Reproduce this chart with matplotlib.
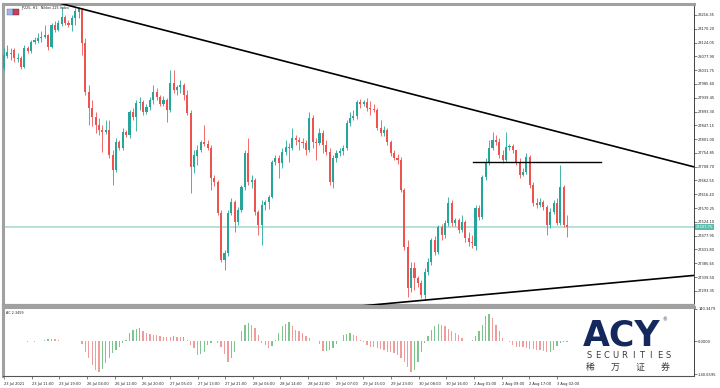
import numpy as np
import matplotlib
matplotlib.use("Agg")
import matplotlib.pyplot as plt
from matplotlib.transforms import blended_transform_factory

# ---------------- data (JP225, H1) ----------------
opens = [28039, 28079, 28089, 28099, 28069, 28072, 28042, 28105, 28095, 28126,
         28129, 28139, 28142, 28149, 28109, 28182, 28166, 28186, 28209, 28189,
         28182, 28206, 28225, 28233, 28122, 27958, 27905, 27875, 27848, 27831,
         27825, 27831, 27748, 27698, 27791, 27771, 27825, 27815, 27891, 27875,
         27922, 27925, 27891, 27908, 27932, 27958, 27942, 27918, 27932, 27898,
         27988, 27965, 27975, 27982, 27948, 27888, 27708, 27745, 27764, 27791,
         27785, 27771, 27671, 27657, 27554, 27397, 27420, 27554, 27590, 27524,
         27564, 27641, 27754, 27657, 27664, 27557, 27514, 27581, 27590, 27607,
         27724, 27738, 27721, 27758, 27774, 27771, 27805, 27798, 27791, 27788,
         27764, 27871, 27791, 27788, 27821, 27781, 27758, 27657, 27738, 27754,
         27761, 27771, 27855, 27871, 27878, 27925, 27918, 27925, 27905, 27902,
         27898, 27838, 27821, 27831, 27791, 27754, 27738, 27731, 27631, 27440,
         27303, 27370, 27336, 27320, 27280, 27356, 27390, 27464, 27423, 27507,
         27480, 27520, 27587, 27520, 27530, 27497, 27524, 27470, 27457, 27445,
         27570, 27540, 27674, 27724, 27771, 27798, 27791, 27748, 27731, 27774,
         27778, 27764, 27724, 27681, 27691, 27741, 27647, 27587, 27581, 27590,
         27574, 27514, 27557, 27587, 27520, 27641, 27514]
closes = [28082, 28092, 28085, 28072, 28072, 28042, 28105, 28095, 28126, 28132,
          28139, 28142, 28149, 28109, 28182, 28166, 28189, 28209, 28189, 28182,
          28206, 28229, 28236, 28122, 27958, 27905, 27875, 27848, 27831, 27825,
          27831, 27748, 27698, 27791, 27771, 27825, 27815, 27891, 27875, 27922,
          27925, 27891, 27908, 27932, 27958, 27942, 27918, 27932, 27898, 27988,
          27965, 27975, 27982, 27948, 27888, 27708, 27748, 27764, 27791, 27785,
          27771, 27671, 27657, 27554, 27397, 27420, 27554, 27590, 27524, 27564,
          27641, 27754, 27657, 27664, 27557, 27514, 27581, 27590, 27607, 27724,
          27738, 27721, 27758, 27774, 27771, 27805, 27798, 27791, 27788, 27764,
          27871, 27791, 27788, 27821, 27781, 27758, 27657, 27738, 27754, 27761,
          27771, 27855, 27871, 27878, 27925, 27918, 27925, 27905, 27902, 27898,
          27838, 27821, 27831, 27791, 27754, 27738, 27731, 27631, 27440, 27303,
          27370, 27336, 27320, 27280, 27356, 27390, 27464, 27423, 27507, 27480,
          27520, 27587, 27520, 27530, 27497, 27524, 27470, 27457, 27453, 27570,
          27540, 27674, 27724, 27771, 27798, 27791, 27748, 27731, 27774, 27778,
          27764, 27724, 27681, 27691, 27741, 27647, 27587, 27581, 27590, 27574,
          27514, 27557, 27587, 27520, 27641, 27514, 27507]
highs = [28105, 28116, 28105, 28105, 28089, 28079, 28116, 28112, 28132, 28142,
         28156, 28162, 28182, 28152, 28189, 28196, 28199, 28243, 28216, 28199,
         28216, 28239, 28243, 28239, 28139, 27982, 27932, 27891, 27871, 27848,
         27865, 27865, 27764, 27805, 27798, 27838, 27831, 27898, 27905, 27932,
         27942, 27932, 27918, 27942, 27982, 27972, 27948, 27945, 27938, 28032,
         28032, 27982, 27999, 27988, 27965, 27898, 27764, 27781, 27798, 27848,
         27798, 27781, 27681, 27664, 27564, 27430, 27564, 27604, 27597, 27574,
         27647, 27764, 27805, 27681, 27671, 27564, 27597, 27597, 27614, 27731,
         27748, 27748, 27771, 27798, 27788, 27838, 27815, 27808, 27805, 27798,
         27891, 27882, 27805, 27838, 27831, 27798, 27771, 27748, 27764, 27771,
         27781, 27865, 27891, 27898, 27932, 27935, 27932, 27938, 27928, 27918,
         27905, 27865, 27845, 27838, 27798, 27764, 27751, 27741, 27637, 27464,
         27390, 27390, 27343, 27330, 27370, 27403, 27470, 27477, 27514, 27517,
         27530, 27607, 27597, 27537, 27537, 27547, 27530, 27490, 27480, 27581,
         27581, 27681, 27738, 27798, 27825, 27815, 27805, 27764, 27825, 27785,
         27785, 27764, 27738, 27704, 27754, 27748, 27657, 27604, 27604, 27597,
         27581, 27570, 27597, 27604, 27714, 27647, 27547]
lows = [28032, 28072, 28065, 28059, 28059, 28035, 28039, 28089, 28089, 28119,
        28122, 28126, 28139, 28099, 28105, 28159, 28162, 28179, 28182, 28176,
        28162, 28182, 28205, 28082, 27948, 27848, 27845, 27821, 27815, 27758,
        27818, 27738, 27647, 27691, 27764, 27764, 27808, 27805, 27865, 27828,
        27898, 27882, 27885, 27898, 27918, 27932, 27911, 27911, 27858, 27891,
        27955, 27948, 27955, 27932, 27882, 27621, 27688, 27714, 27758, 27778,
        27764, 27631, 27644, 27547, 27390, 27363, 27410, 27547, 27490, 27514,
        27557, 27631, 27647, 27637, 27547, 27480, 27447, 27564, 27567, 27604,
        27714, 27671, 27704, 27748, 27724, 27764, 27781, 27764, 27771, 27748,
        27758, 27771, 27731, 27781, 27754, 27748, 27647, 27637, 27724, 27744,
        27748, 27764, 27845, 27865, 27868, 27905, 27911, 27895, 27882, 27891,
        27831, 27811, 27811, 27781, 27744, 27731, 27718, 27624, 27430, 27273,
        27290, 27296, 27306, 27270, 27263, 27346, 27380, 27413, 27417, 27464,
        27470, 27510, 27510, 27510, 27487, 27490, 27457, 27443, 27437, 27430,
        27530, 27534, 27664, 27714, 27764, 27781, 27738, 27721, 27724, 27764,
        27754, 27714, 27671, 27677, 27684, 27637, 27577, 27570, 27574, 27564,
        27480, 27504, 27550, 27514, 27514, 27507, 27473]

# Accelerator oscillator values (one per bar)
ac_values = [3, 3, 4, 3, 2, 3, 3, -2, 0, -2, 3, 4, 6, 10, 12, 10, 5, 4, 3, 3, 2, 2, 3,
             -12, -44, -73, -102, -124, -131, -117, -95, -73, -51,
             -37, -22, -7, 7, 37, 51, 55, 58, 44, 37,
             32, 29, 26, 23, 20, 20, 20, 22, 20, 19,
             20, 7, -15, -29, -58, -55, -44, -15, -7, 4,
             -7, -26, -55, -88, -73, -44, 4, 44, 73, 80,
             73, 58, 29, -7, -15, -29, -18, 7, 37, 66,
             76, 85, 66, 51, 44, 37,
             22, 15, 4, 1, -10, -42, -40, -36, -29, -12,
             1, 26, 32, 37, 29, 22, 7, -4, -15, -22,
             -26, -29, -32, -37, -44, -44, -51, -58, -73, -88,
             -110, -134, -124, -88, -44, -7, 22, 51, 66, 76,
             73, 66, 55, 44, 37, 26, 15, 2, 1, 7,
             22, 44, 73, 110, 120, 102, 73, 44, 15, 4,
             -4, -15, -22, -22, -26, -29, -32, -32, -37, -37,
             -41, -47, -44, -37, -18, -7, -3, -2]

# drawn objects (bar index, price)
upper_trend_x = [16.0, 203.4]
upper_trend_y = [28257, 27708]
lower_trend_x = [105.5, 203.4]
lower_trend_y = [27243, 27345]
hline_x = [138.3, 176.0]
hline_y = [27724, 27724]

price_ticks = [28216.35, 28170.20, 28124.05, 28077.90, 28031.75, 27985.60, 27939.45,
               27893.30, 27847.15, 27801.00, 27754.85, 27708.70, 27662.55, 27616.40,
               27570.25, 27524.10, 27477.95, 27431.80, 27385.65, 27339.50, 27293.35]
ac_ticks = [140.3479, 0.0, -140.6595]
ac_tick_labels = ["140.3479", "0.0000", "-140.6595"]
time_labels = ["23 Jul 2021", "23 Jul 11:00", "23 Jul 19:00", "26 Jul 04:00", "26 Jul 12:00",
               "26 Jul 20:00", "27 Jul 05:00", "27 Jul 13:00", "27 Jul 21:00", "28 Jul 06:00",
               "28 Jul 14:00", "28 Jul 22:00", "29 Jul 07:00", "29 Jul 15:00", "29 Jul 23:00",
               "30 Jul 08:00", "30 Jul 16:00", "2 Aug 01:00", "2 Aug 09:00", "2 Aug 17:00",
               "3 Aug 02:00"]
bid_label = "27507.75"
logo_word = "SECURITIES"
logo_cn = ["稀", "万", "证", "券"]

# ---------------- drawing ----------------
GREEN = "#26a69a"
RED = "#ef5350"
AC_GREEN = "#7fc48c"
AC_RED = "#ee9c9c"
FRAME = "#a0a0a0"

o = np.array(opens, float)
c = np.array(closes, float)
h = np.array(highs, float)
l = np.array(lows, float)
n = len(o)
idx = np.arange(n)

W, H = 720, 388
fig = plt.figure(figsize=(7.2, 3.88), dpi=100)
fig.patch.set_facecolor("white")
ax = fig.add_axes([3 / W, 1 - 305 / H, 691 / W, 301 / H])
ax2 = fig.add_axes([3 / W, 1 - 376 / H, 691 / W, 69.5 / H])

XMIN, XMAX = -0.3, 203.4

# candles
up = c >= o
cols = np.where(up, GREEN, RED)
ax.vlines(idx, l, h, colors=cols, lw=0.6, zorder=3)
body = np.maximum(np.abs(c - o), 2.0)
ax.bar(idx, body, bottom=np.minimum(o, c), width=0.62, color=cols, lw=0, zorder=4)

# bid line
ax.axhline(c[-1], color="#a9dcd2", lw=1.2, zorder=1)
tr = blended_transform_factory(ax.transAxes, ax.transData)
ax.text(1.003, c[-1], bid_label, transform=tr, fontsize=2.6, color="white",
        va="center", ha="left", zorder=6, clip_on=False,
        bbox=dict(fc="#5cbfae", ec="none", pad=0.8))

# trend lines
ax.plot(upper_trend_x, upper_trend_y, color="black", lw=1.2, zorder=5, solid_capstyle="butt")
ax.plot(lower_trend_x, lower_trend_y, color="black", lw=1.2, zorder=5, solid_capstyle="butt")
ax.plot(hline_x, hline_y, color="black", lw=1.0, zorder=5)

ax.set_xlim(XMIN, XMAX)
ax.set_ylim(27246, 28253)
ax.yaxis.tick_right()
ax.set_yticks(price_ticks)
ax.set_yticklabels([f"{v:.2f}" for v in price_ticks], fontsize=2.6)
ax.tick_params(axis="y", length=2, width=0.4, pad=1, colors="#222222")
ax.set_xticks([])

for s in ["top", "left"]:
    ax.spines[s].set_color(FRAME)
    ax.spines[s].set_linewidth(2.2)
ax.spines["bottom"].set_color(FRAME)
ax.spines["bottom"].set_linewidth(1.6)
ax.spines["right"].set_color("#222222")
ax.spines["right"].set_linewidth(0.6)

# title + icon
fig.text(21 / W, 1 - 7.5 / H, "JP225, H1:  Nikkei 225 Index", fontsize=2.4,
         color="#222222", va="center", ha="left")
ax.add_patch(plt.Rectangle((0.006, 0.962), 0.008, 0.022, transform=ax.transAxes,
                           fc="#9fb6e0", ec="#5070b0", lw=0.3, zorder=7, clip_on=False))
ax.add_patch(plt.Rectangle((0.015, 0.962), 0.008, 0.022, transform=ax.transAxes,
                           fc="#d04040", ec="#303090", lw=0.3, zorder=7, clip_on=False))

# AC indicator
ac = np.array(ac_values, float)
prev = np.concatenate([[ac[0]], ac[:-1]])
ac_cols = np.where(ac > prev, AC_GREEN, AC_RED)
ax2.bar(idx[:len(ac)], ac, width=0.38, color=ac_cols, lw=0)
ax2.set_xlim(XMIN, XMAX)
ax2.set_ylim(-149.3, 151)
ax2.yaxis.tick_right()
ax2.set_yticks(ac_ticks)
ax2.set_yticklabels(ac_tick_labels, fontsize=2.6)
ax2.tick_params(axis="y", length=2, width=0.4, pad=1, colors="#222222")
tick_pos = np.linspace(0, 163, len(time_labels))
ax2.set_xticks(tick_pos)
ax2.set_xticklabels(time_labels, fontsize=2.6, ha="left")
ax2.tick_params(axis="x", length=2.5, width=0.4, pad=1.5, colors="#222222")
for s in ["top", "left"]:
    ax2.spines[s].set_color(FRAME)
    ax2.spines[s].set_linewidth(2.2)
ax2.spines["bottom"].set_color("#555555")
ax2.spines["bottom"].set_linewidth(0.8)
ax2.spines["right"].set_color("#222222")
ax2.spines["right"].set_linewidth(0.6)
ax2.text(0.004, 0.93, "AC 2.3459", transform=ax2.transAxes, fontsize=2.4,
         color="#222222", va="top", ha="left")

# ACY logo
NAVY = "#14285e"
fig.text(583 / W, 1 - 345 / H, "ACY", fontsize=25, fontweight="black",
         color=NAVY, ha="left", va="baseline")
fig.text(662 / W, 1 - 320 / H, "®", fontsize=3.5, color=NAVY, ha="left", va="center")
for k, ch in enumerate(logo_word):
    fig.text((589 + k * 8.8) / W, 1 - 356 / H, ch, fontsize=6,
             color="#3a3a3a", ha="center", va="center")
for k, ch in enumerate(logo_cn):
    fig.text((590 + k * 25) / W, 1 - 367.5 / H, ch, fontsize=6.4,
             color="#3a3a3a", ha="center", va="center",
             family=["Noto Sans CJK SC", "DejaVu Sans"])

fig.savefig("out.png", dpi=100, facecolor="white")
